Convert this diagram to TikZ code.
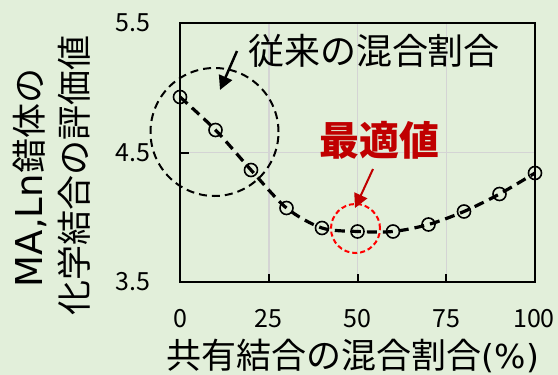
\documentclass[tikz,border=0pt]{standalone}
\usepackage{fontspec}
\setmainfont{Noto Sans CJK JP}
\newfontfamily\latinwide{DejaVu Sans}
\usetikzlibrary{arrows.meta}
\definecolor{bg}{HTML}{E2EFDA}
\definecolor{grid}{HTML}{D4D4D4}
\definecolor{darkred}{HTML}{C00000}
\definecolor{brightred}{HTML}{FF0000}
\tikzset{
  gridline/.style={grid, line width=1.5pt},
  axisbox/.style={black, line width=2pt},
  tickmark/.style={black, line width=2pt},
  ticklabel/.style={font=\fontsize{25}{27}\selectfont, inner sep=0pt},
  axistitle/.style={font=\fontsize{35}{38}\selectfont, inner sep=0pt},
  datamark/.style={circle, draw=black, line width=1.6pt, minimum size=13pt, inner sep=0pt},
  curve/.style={black, line width=3.2pt, dash pattern=on 10pt off 6pt},
  bigring/.style={black, line width=2pt, dash pattern=on 8pt off 5pt},
  redring/.style={brightred, line width=2pt, dash pattern=on 5pt off 3pt},
  callout/.style={line width=2.5pt, -{Triangle[length=14pt,width=14pt]}},
}
\begin{document}
\begin{tikzpicture}[x=1pt,y=-1pt]
\fill[bg] (0,0) rectangle (558,375);
\useasboundingbox (0,0) rectangle (558,375);
% plot frame corners
\coordinate (bl) at (180,282);
\coordinate (tr) at (535,23);
% grid
\foreach \gx in {268.75,357.5,446.25} \draw[gridline] (\gx,23) -- (\gx,282);
\draw[gridline] (180,152.5) -- (535,152.5);
% frame
\draw[axisbox] (bl) rectangle (tr);
% ticks
\foreach \gx in {268.75,357.5,446.25} \draw[tickmark] (\gx,282) -- (\gx,274);
\foreach \gy in {23,152.5,282} \draw[tickmark] (180,\gy) -- (189,\gy);
% tick labels
\node[ticklabel] (y55) at (133,23) {5.5};
\node[ticklabel] (y45) at (133,152.5) {4.5};
\node[ticklabel] (y35) at (133,282) {3.5};
\node[ticklabel] (x0) at (180,319) {0};
\node[ticklabel] (x25) at (268.75,319) {25};
\node[ticklabel] (x50) at (357.5,319) {50};
\node[ticklabel] (x75) at (446.25,319) {75};
\node[ticklabel] (x100) at (534,319) {100};
% axis titles
\node[axistitle] (xtitle) at (353,356) {共有結合の混合割合{\latinwide\fontsize{33}{36}\selectfont(\%)}};
\node[axistitle, rotate=90] (ytitle1) at (30,178) {{\latinwide\fontsize{37}{38}\selectfont MA,Ln}錯体の};
\node[axistitle, rotate=90] (ytitle2) at (74,175) {化学結合の評価値};
% data points
\coordinate (p0) at (180,97);
\coordinate (p1) at (215.5,130);
\coordinate (p2) at (251,170);
\coordinate (p3) at (286.5,208);
\coordinate (p4) at (322,228);
\coordinate (p5) at (357.5,231.5);
\coordinate (p6) at (393,231.5);
\coordinate (p7) at (428.5,224.5);
\coordinate (p8) at (464,211.5);
\coordinate (p9) at (499.5,194);
\coordinate (p10) at (535,173);
\draw[curve] plot[smooth, tension=0.5] coordinates {(p0) (p1) (p2) (p3) (p4) (p5) (p6) (p7) (p8) (p9) (p10)};
\foreach \i in {0,...,10} \node[datamark] (m\i) at (p\i) {};
% rings
\node[bigring, circle, minimum size=128pt, inner sep=0pt, draw] (ring) at (214.5,132) {};
\node[redring, circle, minimum size=49pt, inner sep=0pt, draw] (redr) at (355.5,228.5) {};
% callouts
\node[font=\fontsize{36}{38}\selectfont, inner sep=0pt] (conv) at (374,51) {従来の混合割合};
\node[font=\bfseries\fontsize{40}{42}\selectfont, text=darkred, inner sep=0pt] (opt) at (379,140) {最適値};
\coordinate (a1s) at (237,51);
\coordinate (a1e) at (220,90);
\draw[callout, black] (a1s) -- (a1e);
\coordinate (a2s) at (373,169);
\coordinate (a2e) at (355,208);
\draw[callout, darkred, line width=2pt] (a2s) -- (a2e);
\end{tikzpicture}
\end{document}
